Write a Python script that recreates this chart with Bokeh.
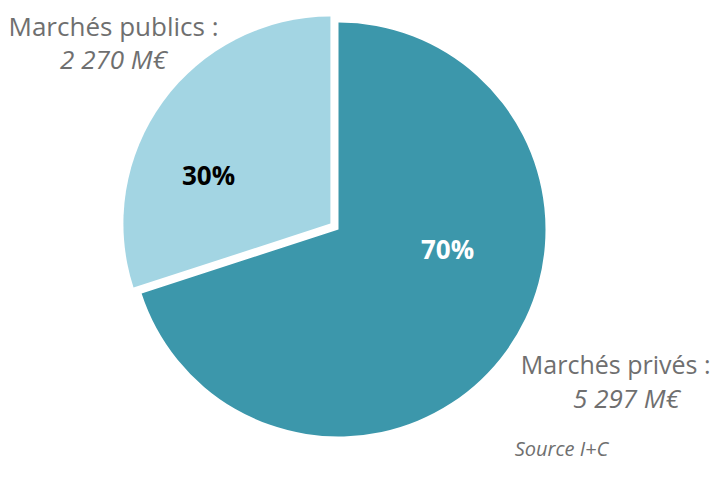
import math
from bokeh.plotting import figure
from bokeh.models import Range1d
from bokeh.core.properties import value
from bokeh.embed import file_html
from bokeh.resources import INLINE

categories = ["Marchés publics", "Marchés privés"]
amounts = [2270, 5297]
pct_labels = ["30%", "70%"]
amount_labels = ["2 270 M€", "5 297 M€"]
colors = ["#a3d5e3", "#3c97ab"]
source_text = "Source I+C"

W, H = 712, 468
p = figure(width=W, height=H, output_backend="svg", toolbar_location=None,
           x_range=Range1d(0, W), y_range=Range1d(0, H), min_border=0)
p.axis.visible = False
p.grid.visible = False
p.outline_line_color = None
p.background_fill_color = "white"

def sy(y):  # screen y -> data y
    return H - y
def sx(x):
    return x

cx, cy, r = sx(338), sy(229), 207
explode = [10, 0]
total = sum(amounts)
start = math.pi / 2
for i, a in enumerate(amounts):
    frac = a / total
    end = start + frac * 2 * math.pi
    mid = (start + end) / 2
    ox = cx + explode[i] * math.cos(mid)
    oy = cy + explode[i] * math.sin(mid)
    p.wedge(x=[ox], y=[oy], radius=r, start_angle=[start], end_angle=[end],
            fill_color=colors[i], line_color=None)
    start = end

font = value("Open Sans")
# percent labels
p.text(x=[sx(208)], y=[sy(174)], text=[pct_labels[0]], text_font=font,
       text_font_size="26px", text_font_style="bold", text_color="black",
       text_align="center", text_baseline="middle")
p.text(x=[sx(447)], y=[sy(248)], text=[pct_labels[1]], text_font=font,
       text_font_size="26px", text_font_style="bold", text_color="white",
       text_align="center", text_baseline="middle")

# category labels
gray = "#6f6f6f"
p.text(x=[sx(113)], y=[sy(25)], text=[categories[0] + " :"], text_font=font,
       text_font_size="26px", text_color=gray, text_align="center", text_baseline="middle")
p.text(x=[sx(113)], y=[sy(58)], text=[amount_labels[0]], text_font=font,
       text_font_size="26px", text_font_style="italic", text_color=gray,
       text_align="center", text_baseline="middle")
p.text(x=[sx(710)], y=[sy(363)], text=[categories[1] + " :"], text_font=font,
       text_font_size="25px", text_color=gray, text_align="right", text_baseline="middle")
p.text(x=[sx(626)], y=[sy(397)], text=[amount_labels[1]], text_font=font,
       text_font_size="26px", text_font_style="italic", text_color=gray,
       text_align="center", text_baseline="middle")
p.text(x=[sx(561)], y=[sy(448)], text=[source_text], text_font=font,
       text_font_size="20px", text_font_style="italic", text_color=gray,
       text_align="center", text_baseline="middle")

open("out.html", "w").write(file_html(p, INLINE))
